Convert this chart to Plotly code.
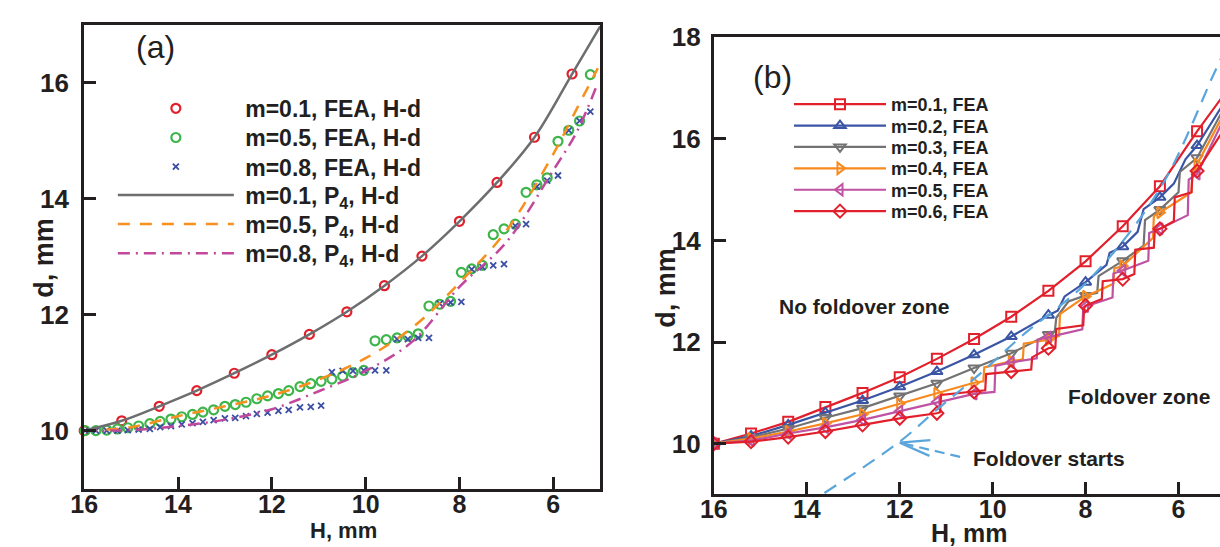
import plotly.graph_objects as go

# ---------------- panel (a): H-d relation, FEA points and P4 fits ----------------
H_a01 = [16.0, 15.2, 14.4, 13.6, 12.8, 12.0, 11.2, 10.4, 9.6, 8.8, 8.0, 7.2, 6.4, 5.6]
d_a01 = [10.00, 10.17, 10.42, 10.69, 10.99, 11.31, 11.66, 12.05, 12.50, 13.01, 13.61, 14.28, 15.06, 16.15]

H_a_fine = [15.98, 15.75, 15.52, 15.29, 15.07, 14.84, 14.60, 14.38, 14.15, 13.92,
            13.69, 13.47, 13.24, 13.00, 12.78, 12.55, 12.32, 12.09, 11.86, 11.64,
            11.40, 11.17, 10.95, 10.72, 10.49, 10.27, 10.04, 9.80, 9.56, 9.33,
            9.10, 8.88, 8.65, 8.42, 8.19, 7.96, 7.74, 7.51, 7.28, 7.05,
            6.81, 6.58, 6.35, 6.13, 5.90, 5.67, 5.44, 5.21, 4.99]
d_a05 = [10.00, 10.00, 10.01, 10.03, 10.05, 10.08, 10.12, 10.16, 10.20, 10.24,
         10.28, 10.32, 10.36, 10.42, 10.45, 10.49, 10.55, 10.60, 10.64, 10.69,
         10.76, 10.81, 10.85, 10.89, 10.94, 11.00, 11.04, 11.55, 11.57, 11.60,
         11.63, 11.67, 12.15, 12.18, 12.23, 12.73, 12.79, 12.85, 13.38, 13.48,
         13.56, 14.11, 14.24, 14.36, 14.99, 15.18, 15.34, 16.14, 16.37]
d_a08 = [10.00, 10.00, 10.00, 10.00, 10.01, 10.02, 10.03, 10.06, 10.08, 10.11,
         10.13, 10.15, 10.18, 10.21, 10.22, 10.25, 10.29, 10.31, 10.34, 10.36,
         10.40, 10.41, 10.43, 11.01, 11.03, 11.03, 11.04, 11.04, 11.04, 11.58,
         11.58, 11.60, 11.60, 12.19, 12.21, 12.22, 12.78, 12.82, 12.85, 12.87,
         13.53, 13.56, 14.21, 14.31, 14.40, 15.18, 15.34, 15.50, 16.20]

H_p01 = [16.0, 15.2, 14.4, 13.6, 12.8, 12.0, 11.2, 10.4, 9.6, 8.8, 8.0, 7.2, 6.4, 5.6, 5.0]
d_p01 = [10.00, 10.17, 10.42, 10.69, 10.99, 11.31, 11.66, 12.05, 12.50, 13.01, 13.61, 14.28, 15.06, 16.15, 16.97]
H_p = [16.0, 15.0, 14.0, 13.0, 12.0, 11.0, 10.0, 9.0, 8.0, 7.0, 6.0, 5.5, 5.05]
d_p05 = [10.00, 10.06, 10.25, 10.42, 10.61, 10.88, 11.25, 11.78, 12.55, 13.45, 14.77, 15.55, 16.25]
d_p08 = [10.00, 10.01, 10.08, 10.19, 10.37, 10.68, 11.03, 11.54, 12.48, 13.25, 14.49, 15.15, 16.00]

# ---------------- panel (b): FEA curves for several m ----------------
# values at the marked displacements
H_b = [16.0, 15.2, 14.4, 13.6, 12.8, 12.0, 11.2, 10.4, 9.6, 8.8, 8.0, 7.2, 6.4, 5.6, 4.8]
d_b01 = [10.00, 10.20, 10.43, 10.72, 11.00, 11.31, 11.67, 12.06, 12.50, 13.01, 13.59, 14.28, 15.07, 16.15, 17.15]
d_b02 = [10.00, 10.15, 10.37, 10.61, 10.85, 11.12, 11.42, 11.75, 12.11, 12.53, 13.18, 13.88, 14.85, 15.87, 17.03]
d_b03 = [10.00, 10.12, 10.30, 10.51, 10.70, 10.94, 11.19, 11.49, 11.78, 12.15, 12.92, 13.60, 14.61, 15.63, 16.98]
d_b04 = [10.00, 10.10, 10.24, 10.40, 10.58, 10.79, 10.99, 11.20, 11.62, 12.05, 12.90, 13.50, 14.55, 15.50, 16.88]
d_b05 = [10.00, 10.06, 10.20, 10.32, 10.47, 10.64, 10.82, 10.98, 11.60, 12.10, 12.70, 13.41, 14.23, 15.31, 16.81]
d_b06 = [10.00, 10.04, 10.13, 10.24, 10.37, 10.50, 10.60, 11.02, 11.42, 11.88, 12.72, 13.24, 14.23, 15.37, 16.50]

# extra FEA points between the marked ones (jumps of the foldover)
H_s02 = [8.60, 8.45, 7.55, 7.48, 6.88, 6.75, 6.10, 5.85]
d_s02 = [12.62, 12.90, 13.52, 13.76, 14.17, 14.62, 15.12, 15.60]
H_s03 = [8.66, 8.63, 8.37, 7.75, 7.72, 6.75, 6.72, 6.00, 5.97]
d_s03 = [12.22, 12.48, 12.80, 12.97, 13.30, 13.90, 14.40, 14.95, 15.35]
H_s04 = [10.20, 10.18, 9.35, 9.33, 8.57, 8.55, 7.40, 7.38, 6.55, 6.53, 5.72, 5.70]
d_s04 = [11.23, 11.50, 11.66, 11.97, 12.12, 12.55, 13.15, 13.45, 14.05, 14.48, 14.95, 15.35]
H_s05 = [9.96, 9.94, 9.05, 9.03, 8.07, 8.05, 7.42, 7.40, 6.65, 6.63, 5.80, 5.78]
d_s05 = [11.02, 11.53, 11.68, 12.05, 12.25, 12.68, 12.88, 13.35, 13.60, 14.15, 14.50, 15.20]
H_s06 = [11.13, 11.11, 10.16, 10.14, 9.17, 9.15, 8.65, 8.63, 8.05, 8.03, 7.65, 7.63,
         6.95, 6.93, 6.53, 6.51, 6.10, 6.08, 5.72, 5.70]
d_s06 = [10.62, 10.96, 11.05, 11.37, 11.46, 11.70, 11.90, 12.26, 12.33, 12.68, 12.85, 13.20,
         13.34, 13.82, 13.86, 14.20, 14.38, 14.85, 14.95, 15.30]

H_fold = [13.62, 12.0, 11.2, 10.28, 9.36, 7.94, 6.38, 5.24, 5.0]
d_fold = [9.03, 10.04, 10.67, 11.37, 12.13, 13.21, 15.05, 17.28, 17.75]

FONT = "Liberation Sans, Arial, Helvetica, sans-serif"
INK = "#231f20"
W, HGT = 1220, 547
PAD = "\u00a0"

fig = go.Figure()
legend_cfg = {}


def legend_slot(key, x_px, y_px, size, itemwidth):
    legend_cfg[key] = dict(x=x_px / W, y=1 - y_px / HGT, xanchor="left", yanchor="middle",
                           bgcolor="rgba(0,0,0,0)", itemwidth=itemwidth, borderwidth=0,
                           font=dict(family=FONT, size=size, color=INK, weight="bold"))


# panel (a) traces, each with its own legend row
rows_a = [96, 126, 156, 185, 215, 245]
a_traces = [
    dict(x=H_a01, y=d_a01, mode="markers", name=PAD + "m=0.1, FEA, H-d",
         marker=dict(symbol="circle-open", size=9, color="#e2202c", line=dict(width=2.2)), cliponaxis=False),
    dict(x=H_a_fine, y=d_a05, mode="markers", name=PAD + "m=0.5, FEA, H-d",
         marker=dict(symbol="circle-open", size=9, color="#3db54a", line=dict(width=2.2)), cliponaxis=False),
    dict(x=H_a_fine, y=d_a08, mode="markers", name=PAD + "m=0.8, FEA, H-d",
         marker=dict(symbol="x-thin-open", size=6, color="#3b4ea3", line=dict(width=1.8)), cliponaxis=False),
    dict(x=H_p01, y=d_p01, mode="lines", name=PAD + "m=0.1, P<sub>4</sub>, H-d",
         line=dict(color="#6d6e70", width=2.5, shape="spline")),
    dict(x=H_p, y=d_p05, mode="lines", name=PAD + "m=0.5, P<sub>4</sub>, H-d",
         line=dict(color="#f7901e", width=2.5, dash="12px,10px", shape="spline")),
    dict(x=H_p, y=d_p08, mode="lines", name=PAD + "m=0.8, P<sub>4</sub>, H-d",
         line=dict(color="#c2489c", width=2.5, dash="12px,6px,2px,6px", shape="spline")),
]
for i, (tr, ry) in enumerate(zip(a_traces, rows_a)):
    key = "legend" if i == 0 else f"legend{i + 1}"
    legend_slot(key, 100, ry, 23, 116)
    fig.add_trace(go.Scatter(legend=key, **tr))

# panel (b): full FEA path as a line, markers on the marked displacements
rows_b = [92, 114, 136, 158, 180, 202]
series_b = [
    ("m=0.1, FEA", d_b01, [], [], "#e2202c", "square-open"),
    ("m=0.2, FEA", d_b02, H_s02, d_s02, "#3b55a5", "triangle-up-open"),
    ("m=0.3, FEA", d_b03, H_s03, d_s03, "#737373", "triangle-down-open"),
    ("m=0.4, FEA", d_b04, H_s04, d_s04, "#f7891f", "triangle-right-open"),
    ("m=0.5, FEA", d_b05, H_s05, d_s05, "#c052a4", "triangle-left-open"),
    ("m=0.6, FEA", d_b06, H_s06, d_s06, "#e2202c", "diamond-open"),
]
for j, ((name, d, hs, ds, col, sym), ry) in enumerate(zip(series_b, rows_b)):
    key = f"legend{j + 7}"
    legend_slot(key, 784, ry, 18, 92)
    path = sorted(list(zip(H_b, d)) + list(zip(hs, ds)), key=lambda p: (p[1], -p[0]))
    fig.add_trace(go.Scatter(x=[p[0] for p in path], y=[p[1] for p in path], mode="lines",
                             line=dict(color=col, width=2.2), showlegend=False,
                             xaxis="x2", yaxis="y2"))
    # markers only: gaps keep the marker trace from drawing its own segments
    mx, my = [], []
    for h, v in zip(H_b, d):
        mx += [h, None]
        my += [v, None]
    fig.add_trace(go.Scatter(x=mx, y=my, mode="lines+markers", name=name, legend=key,
                             connectgaps=False, line=dict(color=col, width=2.2),
                             marker=dict(symbol=sym, size=10, color=col, line=dict(width=2)),
                             xaxis="x2", yaxis="y2"))
fig.add_trace(go.Scatter(x=H_fold, y=d_fold, mode="lines", showlegend=False,
                         line=dict(color="#5aa6dc", width=2.2, dash="14px,9px", shape="spline"),
                         xaxis="x2", yaxis="y2"))

axis_common = dict(showline=True, linewidth=3, linecolor=INK, ticks="inside", ticklen=12,
                   tickwidth=3, tickcolor=INK, showgrid=False, zeroline=False)
tick_y = dict(family=FONT, size=26, color=INK, weight="bold")
tick_x = dict(family=FONT, size=25, color=INK, weight="bold")

fig.update_layout(
    width=W, height=HGT, margin=dict(l=0, r=0, t=0, b=0),
    paper_bgcolor="white", plot_bgcolor="white",
    xaxis=dict(domain=[71 / W, 593 / W], range=[16, 5], tickvals=[16, 14, 12, 10, 8, 6],
               mirror=True, anchor="y", ticklabelstandoff=-9, tickfont=tick_x, **axis_common),
    yaxis=dict(domain=[60 / HGT, 537 / HGT], range=[9, 17], tickvals=[10, 12, 14, 16],
               mirror=True, anchor="x", ticklabelstandoff=7, tickfont=tick_y, **axis_common),
    xaxis2=dict(domain=[708 / W, 1.0], range=[16, 16 - 512 / 47], tickvals=[16, 14, 12, 10, 8, 6],
                mirror=True, anchor="y2", ticklabelstandoff=-9, tickfont=tick_x, **axis_common),
    yaxis2=dict(domain=[54 / HGT, 524 / HGT], range=[9, 18], tickvals=[10, 12, 14, 16, 18],
                anchor="x2", ticklabelstandoff=5, tickfont=tick_y, **axis_common),
    showlegend=True,
    **legend_cfg,
)


def label(text, x, y, size, bold=True, angle=0):
    fig.add_annotation(text=text, x=x / W, y=1 - y / HGT, xref="paper", yref="paper",
                       showarrow=False, textangle=angle, xanchor="center", yanchor="middle",
                       font=dict(family=FONT, size=size, color=INK, weight="bold" if bold else "normal"))


label("(a)", 143, 33, 32, bold=False)
label("(b)", 767, 64, 32, bold=False)
label("d, mm", 30, 250, 27, angle=-90)
label("H, mm", 333, 530, 22)
label("d, mm", 660, 280, 27, angle=-90)
label("H, mm", 966, 533, 25)
label("No foldover zone", 860, 300, 21)
label("Foldover zone", 1138, 392, 21)
label("Foldover starts", 1047, 456, 21)

# arrow pointing at the onset of foldover
fig.add_shape(type="line", xref="x2", yref="y2", x0=10.7, y0=9.74, x1=12.0, y1=10.02,
              line=dict(color="#5aa6dc", width=2.2, dash="10px,6px"))
fig.add_shape(type="line", xref="x2", yref="y2", x0=12.0, y0=10.02, x1=11.34, y1=10.07,
              line=dict(color="#5aa6dc", width=2.2))
fig.add_shape(type="line", xref="x2", yref="y2", x0=12.0, y0=10.02, x1=11.36, y1=9.76,
              line=dict(color="#5aa6dc", width=2.2))

fig.write_html("out.html")
